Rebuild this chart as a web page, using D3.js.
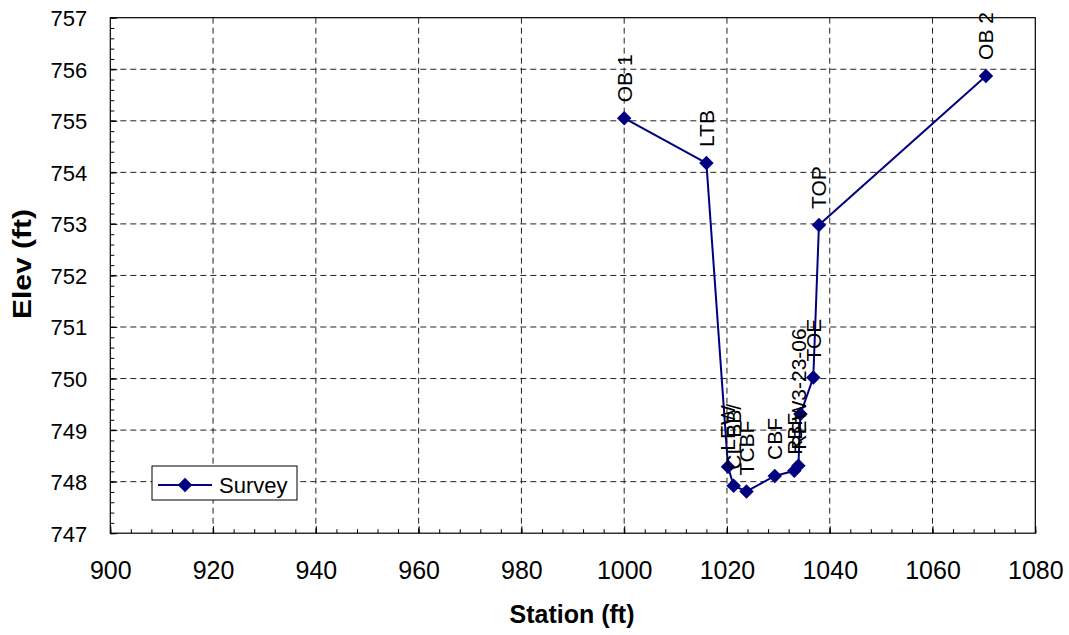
<!DOCTYPE html>
<html>
<head>
<meta charset="utf-8">
<script src="https://cdn.jsdelivr.net/npm/d3@7"></script>
<style>
  html, body { margin: 0; padding: 0; background: #fff; }
  svg { display: block; font-family: "Liberation Sans", Arial, sans-serif; }
</style>
</head>
<body>
<svg id="chart" width="1069" height="635"></svg>
<script>
// ---- data ----
const stations = [1000, 1016.0, 1020.2, 1021.3, 1023.8, 1029.3, 1033.1, 1033.9, 1034.3, 1036.8, 1037.9, 1070.4];
const elevations = [755.05, 754.18, 748.29, 747.92, 747.81, 748.11, 748.21, 748.31, 749.31, 750.02, 752.98, 755.87];
const pointLabels = ["OB 1", "LTB", "LEW", "CL BB/", "TCBF", "CBF", "RBF", "REW3-23-06", "", "TOE", "TOP", "OB 2"];
const xTicks = [900, 920, 940, 960, 980, 1000, 1020, 1040, 1060, 1080];
const yTicks = [747, 748, 749, 750, 751, 752, 753, 754, 755, 756, 757];
const seriesName = "Survey";
const xTitle = "Station (ft)";
const yTitle = "Elev (ft)";

const svg = d3.select("#chart");
const L = 110.3, R = 1035.3, T = 17.7, B = 533.2;
const x = d3.scaleLinear().domain([900, 1080]).range([L, R]);
const y = d3.scaleLinear().domain([747, 757]).range([B, T]);
const navy = "#000080";

// gridlines
const grid = svg.append("g");
grid.selectAll("line.gx").data(xTicks.slice(1, -1)).join("line")
  .attr("x1", d => x(d)).attr("x2", d => x(d)).attr("y1", T).attr("y2", B)
  .attr("stroke", "#222").attr("stroke-width", 1).attr("stroke-dasharray", "6,4");
grid.selectAll("line.gy").data(yTicks.slice(1, -1)).join("line")
  .attr("x1", L).attr("x2", R).attr("y1", d => y(d)).attr("y2", d => y(d))
  .attr("stroke", "#222").attr("stroke-width", 1).attr("stroke-dasharray", "6,4");

// axes (ticks inside)
const xMinor = d3.range(900, 1080.01, 4);
const yMinor = d3.range(747, 757.001, 0.2);
svg.append("g").attr("transform", `translate(0,${B})`)
  .call(d3.axisBottom(x).tickValues(xMinor).tickSize(-4).tickFormat(""))
  .call(g => g.select(".domain").remove())
  .call(g => g.selectAll("line").attr("stroke", "#000"));
svg.append("g").attr("transform", `translate(0,${B})`)
  .call(d3.axisBottom(x).tickValues(xTicks).tickSize(-7).tickPadding(0).tickFormat(d3.format("d")))
  .call(g => g.select(".domain").remove())
  .call(g => g.selectAll("line").attr("stroke", "#000"))
  .call(g => g.selectAll("text").attr("y", 46).attr("dy", 0).attr("font-size", 25)
    .attr("font-family", "Liberation Sans, Arial, sans-serif").attr("fill", "#000"));
svg.append("g").attr("transform", `translate(${L},0)`)
  .call(d3.axisLeft(y).tickValues(yMinor).tickSize(-4).tickFormat(""))
  .call(g => g.select(".domain").remove())
  .call(g => g.selectAll("line").attr("stroke", "#000"));
svg.append("g").attr("transform", `translate(${L},0)`)
  .call(d3.axisLeft(y).tickValues(yTicks).tickSize(-7).tickPadding(0).tickFormat(d3.format("d")))
  .call(g => g.select(".domain").remove())
  .call(g => g.selectAll("line").attr("stroke", "#000"))
  .call(g => g.selectAll("text").attr("x", -23).attr("dy", "0.36em").attr("font-size", 22)
    .attr("font-family", "Liberation Sans, Arial, sans-serif").attr("fill", "#000"));

// border
svg.append("rect").attr("x", L).attr("y", T).attr("width", R - L).attr("height", B - T)
  .attr("fill", "none").attr("stroke", "#000").attr("stroke-width", 1.2);

// series
const pts = stations.map((s, i) => ({ s, e: elevations[i], lab: pointLabels[i] }));
svg.append("path").datum(pts)
  .attr("d", d3.line().x(d => x(d.s)).y(d => y(d.e)))
  .attr("fill", "none").attr("stroke", navy).attr("stroke-width", 2);
const diamond = d3.symbol().type(d3.symbolSquare).size(105);
svg.selectAll("path.pt").data(pts).join("path")
  .attr("d", diamond)
  .attr("transform", d => `translate(${x(d.s)},${y(d.e)}) rotate(45)`)
  .attr("fill", navy);

// point labels
svg.selectAll("text.lab").data(pts).join("text")
  .attr("transform", d => `translate(${x(d.s)},${y(d.e) - 16}) rotate(-90)`)
  .attr("dy", "0.35em").attr("font-size", 21).attr("fill", "#000")
  .text(d => d.lab);

// legend
const lg = svg.append("g");
lg.append("rect").attr("x", 152).attr("y", 466).attr("width", 145).attr("height", 34)
  .attr("fill", "#fff").attr("stroke", "#000").attr("stroke-width", 1);
lg.append("line").attr("x1", 158).attr("x2", 212).attr("y1", 485).attr("y2", 485)
  .attr("stroke", navy).attr("stroke-width", 2);
lg.append("path").attr("d", diamond).attr("transform", "translate(185,485) rotate(45)").attr("fill", navy);
lg.append("text").attr("x", 219).attr("y", 485).attr("dy", "0.36em").attr("font-size", 22).text(seriesName);

// axis titles
svg.append("text").attr("x", 572).attr("y", 623).attr("text-anchor", "middle")
  .attr("font-size", 25).attr("font-weight", "bold").text(xTitle);
svg.append("text").attr("transform", `translate(31,264) rotate(-90)`)
  .attr("text-anchor", "middle").attr("font-size", 26).attr("font-weight", "bold")
  .attr("textLength", 110).attr("lengthAdjust", "spacingAndGlyphs").text(yTitle);
</script>
</body>
</html>
